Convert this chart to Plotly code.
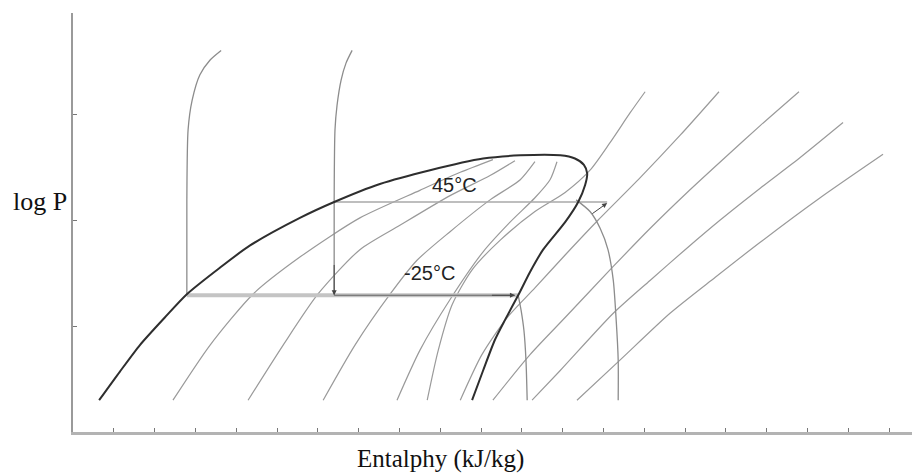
import plotly.graph_objects as go

# ---- data (enthalpy in axis-tick units, log P in axis-tick units) ----
dome_h = [0.64, 1.15, 1.64, 2.25, 2.79, 3.60, 4.34, 5.56, 6.40, 7.52, 8.75, 10.05, 10.96, 11.94,
          12.30, 12.52, 12.60, 12.55, 12.38, 12.06, 11.52, 11.20, 10.91, 10.59, 10.34, 10.05, 9.78]
dome_p = [0.30, 0.57, 0.82, 1.08, 1.30, 1.55, 1.76, 2.02, 2.17, 2.34, 2.47, 2.58, 2.61, 2.61,
          2.58, 2.52, 2.44, 2.33, 2.17, 1.98, 1.72, 1.51, 1.29, 1.06, 0.87, 0.58, 0.30]

# -25 °C isotherm: liquid branch, two-phase line, vapour branch
t25_liq_h = [3.63, 3.36, 3.11, 2.92, 2.82, 2.79, 2.79]
t25_liq_p = [3.60, 3.51, 3.37, 3.13, 2.85, 2.19, 1.29]
t25_evap_h = [2.79, 10.91]
t25_evap_p = [1.29, 1.29]
t25_vap_h = [10.91, 10.98, 11.05, 11.10, 11.13]
t25_vap_p = [1.29, 1.15, 0.96, 0.68, 0.30]

# 45 °C isotherm
t45_liq_h = [6.84, 6.69, 6.57, 6.47, 6.42, 6.40, 6.40]
t45_liq_p = [3.60, 3.48, 3.32, 3.08, 2.85, 2.19, 1.29]
t45_cond_h = [6.40, 13.09]
t45_cond_p = [2.17, 2.17]
t45_vap_h = [12.33, 12.67, 12.92, 13.11, 13.24, 13.31, 13.36, 13.36]
t45_vap_p = [2.19, 2.08, 1.92, 1.72, 1.43, 1.06, 0.68, 0.30]

# evaporation path (from expansion point to saturated vapour)
evap_path_h = [6.40, 10.83]
evap_path_p = [1.29, 1.29]

# constant-entropy lines
s_lines = {
    "s1": ([2.45, 3.36, 4.41, 5.56, 7.03, 8.50, 9.49, 10.29],
           [0.30, 0.82, 1.30, 1.65, 2.02, 2.28, 2.45, 2.57]),
    "s2": ([4.29, 5.15, 6.00, 7.03, 8.01, 9.24, 10.22, 10.83],
           [0.30, 0.82, 1.30, 1.72, 1.95, 2.23, 2.42, 2.56]),
    "s3": ([6.13, 6.91, 7.77, 8.43, 9.24, 10.22, 10.96, 11.32],
           [0.30, 0.82, 1.30, 1.62, 1.89, 2.19, 2.38, 2.55]),
    "s4": ([7.94, 8.50, 9.24, 10.05, 10.71, 11.32, 11.69, 11.86],
           [0.30, 0.77, 1.25, 1.70, 1.98, 2.21, 2.38, 2.55]),
    "s5": ([8.68, 8.95, 9.29, 9.78, 10.47, 11.32, 12.06, 12.67, 13.16, 13.65, 14.02],
           [0.30, 0.77, 1.20, 1.53, 1.81, 2.08, 2.26, 2.47, 2.73, 3.01, 3.21]),
    "s6": ([9.49, 10.02, 10.64, 11.32, 12.06, 12.87, 13.90, 14.88, 15.83],
           [0.30, 0.73, 1.08, 1.36, 1.67, 2.00, 2.40, 2.80, 3.21]),
    "s7": ([10.29, 11.20, 12.06, 13.21, 14.14, 15.05, 15.98, 16.84, 17.79],
           [0.30, 0.73, 1.08, 1.55, 1.92, 2.26, 2.59, 2.89, 3.21]),
    "s8": ([11.25, 11.94, 13.24, 14.14, 15.00, 15.86, 16.84, 17.82, 18.87],
           [0.30, 0.58, 1.12, 1.43, 1.72, 2.00, 2.30, 2.59, 2.92]),
    "s9": ([12.35, 13.41, 14.63, 15.74, 16.84, 18.31, 19.85],
           [0.30, 0.68, 1.12, 1.46, 1.79, 2.21, 2.62]),
}

x_ticks = list(range(1, 21))
y_ticks = [1, 2, 3]
label_45 = "45°C"
label_m25 = "-25°C"
label_45_pos = (9.36, 2.33)
label_m25_pos = (8.73, 1.50)

GRAY = "#9a9a9a"

fig = go.Figure()

def add_line(h, p, color=GRAY, width=1.2, shape="spline"):
    fig.add_trace(go.Scatter(x=h, y=p, mode="lines",
                             line=dict(color=color, width=width, shape=shape, smoothing=0.7),
                             hoverinfo="skip", showlegend=False))

for name, (h, p) in s_lines.items():
    add_line(h, p)

add_line(t25_liq_h, t25_liq_p, color="#8c8c8c", width=1.3)
add_line(t25_vap_h, t25_vap_p, color="#8c8c8c", width=1.3)
add_line(t25_evap_h, t25_evap_p, color="#c4c4c4", width=4, shape="linear")
add_line(evap_path_h, evap_path_p, color="#666666", width=1.2, shape="linear")
add_line(t45_liq_h, t45_liq_p, color="#8c8c8c", width=1.3)
add_line(t45_cond_h, t45_cond_p, color="#a8a8a8", width=1.6, shape="linear")
add_line(t45_vap_h, t45_vap_p, color="#8c8c8c", width=1.3)
add_line(dome_h, dome_p, color="#2e2e2e", width=2)

# arrowheads at ends of the process lines
arrows = [
    (t45_liq_h[-1], t45_liq_p[-1], t45_liq_h[-2], t45_liq_p[-1] + 0.3),
    (evap_path_h[-1], evap_path_p[-1], evap_path_h[-1] - 0.6, evap_path_p[-1]),
    (t45_cond_h[-1], t45_cond_p[-1] - 0.01, t45_cond_h[-1] - 0.4, t45_cond_p[-1] - 0.12),
]
for hx, py, tx, ty in arrows:
    fig.add_annotation(x=hx, y=py, ax=tx, ay=ty, xref="x", yref="y", axref="x", ayref="y",
                       text="", showarrow=True, arrowhead=2, arrowsize=1.0, arrowwidth=1,
                       arrowcolor="#444444", standoff=0)

fig.add_annotation(x=label_45_pos[0], y=label_45_pos[1], text=label_45, showarrow=False,
                   font=dict(family="Liberation Sans, Arial", size=20, color="#222"))
fig.add_annotation(x=label_m25_pos[0], y=label_m25_pos[1], text=label_m25, showarrow=False,
                   font=dict(family="Liberation Sans, Arial", size=20, color="#222"))

fig.add_annotation(xref="paper", yref="paper", x=-0.039, y=0.551, text="log P", showarrow=False,
                   xanchor="center", yanchor="middle",
                   font=dict(family="Liberation Serif, Times New Roman", size=26, color="#111"))
fig.add_annotation(xref="paper", yref="paper", x=0.4386, y=-0.064, text="Entalphy (kJ/kg)",
                   showarrow=False, xanchor="center", yanchor="middle", borderpad=0,
                   font=dict(family="Liberation Serif, Times New Roman", size=25, color="#111"))

fig.update_layout(
    width=912, height=474,
    margin=dict(l=73, r=0, t=13, b=42),
    paper_bgcolor="white", plot_bgcolor="white",
    xaxis=dict(range=[0, 20.56], showgrid=False, zeroline=False, showline=True,
               linecolor="#b3b3b3", linewidth=3, ticks="inside", ticklen=4, tickwidth=1,
               tickcolor="#777", tickvals=x_ticks, showticklabels=False, fixedrange=True),
    yaxis=dict(range=[0, 3.953], showgrid=False, zeroline=False, showline=True,
               linecolor="#9a9a9a", linewidth=2, ticks="inside", ticklen=4, tickwidth=1,
               tickcolor="#777", tickvals=y_ticks, showticklabels=False, fixedrange=True),
)

fig.write_html("out.html", config={"displayModeBar": False},
               post_script="document.body.style.margin='0';document.body.style.overflow='hidden';")
